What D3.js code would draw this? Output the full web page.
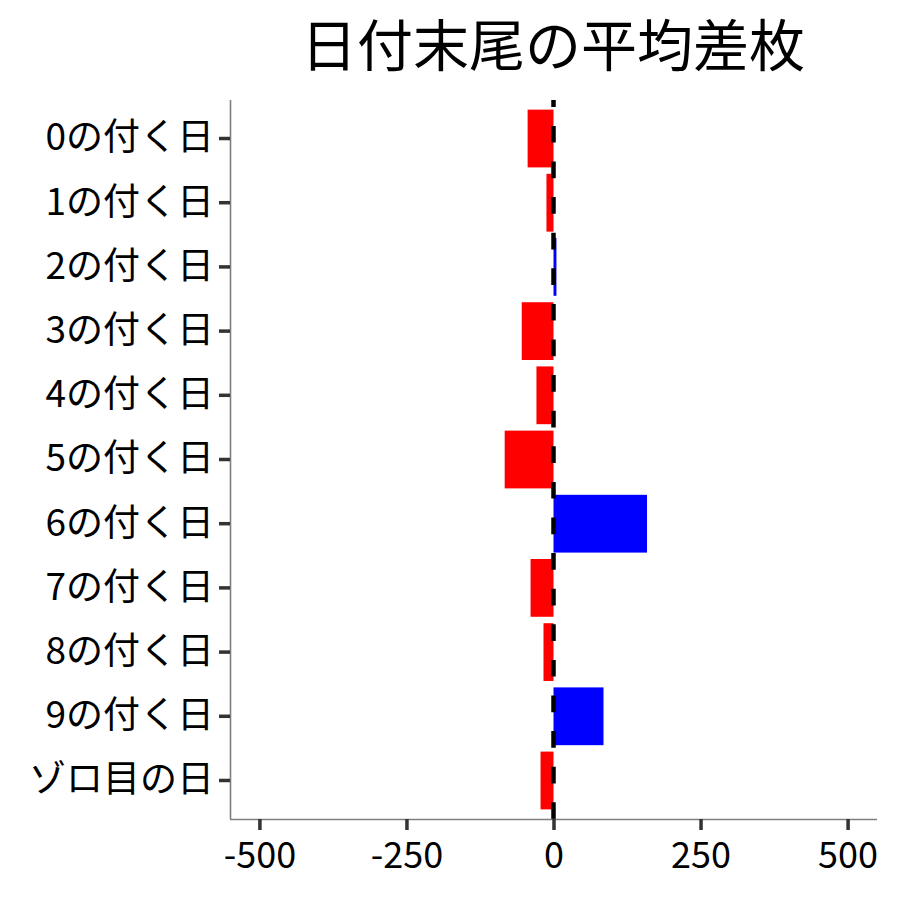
<!DOCTYPE html>
<html><head><meta charset="utf-8">
<script src="https://cdn.jsdelivr.net/npm/d3@7"></script>
<style>body{margin:0;background:#fff}svg{display:block}text{font-family:"Noto Sans CJK JP","Noto Sans",sans-serif}</style>
</head><body>
<script>
const categories = ["0の付く日","1の付く日","2の付く日","3の付く日","4の付く日","5の付く日","6の付く日","7の付く日","8の付く日","9の付く日","ゾロ目の日"];
const values = [-44, -12, 5, -54, -29, -83, 159, -39, -17, 85, -22];
const xTicks = [-500, -250, 0, 250, 500];
const title = "日付末尾の平均差枚";

const W = 900, H = 900;
const m = {left: 230, right: 877, top: 100, bottom: 819};
const svg = d3.select("body").append("svg").attr("width", W).attr("height", H);

const x = d3.scaleLinear().domain([-550, 550]).range([m.left, m.right]);
const y = d3.scaleBand().domain(categories).range([m.top, m.bottom]).paddingInner(0.1).paddingOuter(0.15);

// bars
svg.append("g").selectAll("rect").data(categories).join("rect")
  .attr("x", (c, i) => x(Math.min(0, values[i])))
  .attr("width", (c, i) => Math.abs(x(values[i]) - x(0)))
  .attr("y", c => y(c))
  .attr("height", y.bandwidth())
  .attr("fill", (c, i) => values[i] >= 0 ? "#0000FF" : "#FF0000");

// zero dashed line
svg.append("line")
  .attr("x1", x(0)).attr("x2", x(0))
  .attr("y1", m.bottom).attr("y2", m.top)
  .attr("stroke", "#000").attr("stroke-width", 4.5)
  .attr("stroke-dasharray", "16.7,18.9");

// axes
const xAxis = svg.append("g").attr("transform", `translate(0,${m.bottom})`)
  .call(d3.axisBottom(x).tickValues(xTicks).tickSize(11).tickPadding(12).tickFormat(d => String(d)));
const yAxis = svg.append("g").attr("transform", `translate(${m.left},0)`)
  .call(d3.axisLeft(y).tickSize(11).tickPadding(5));
[xAxis, yAxis].forEach(g => {
  g.select(".domain").attr("stroke", "#7f7f7f").attr("stroke-width", 1.6);
  g.selectAll(".tick line").attr("stroke", "#333").attr("stroke-width", 3.5);
  g.selectAll(".tick text").attr("fill", "#000").attr("font-size", 36)
    .style("font-family", '"Noto Sans CJK JP", sans-serif');
});
yAxis.selectAll(".tick text").attr("font-size", 37);
xAxis.select(".domain").attr("d", `M${m.left},0.5H${m.right}`);
yAxis.select(".domain").attr("d", `M0.5,${m.top}V${m.bottom}`);

// title
svg.append("text").attr("x", 553).attr("y", 66).attr("text-anchor", "middle")
  .attr("font-size", 56).attr("fill", "#000").text(title);
</script>
</body></html>
